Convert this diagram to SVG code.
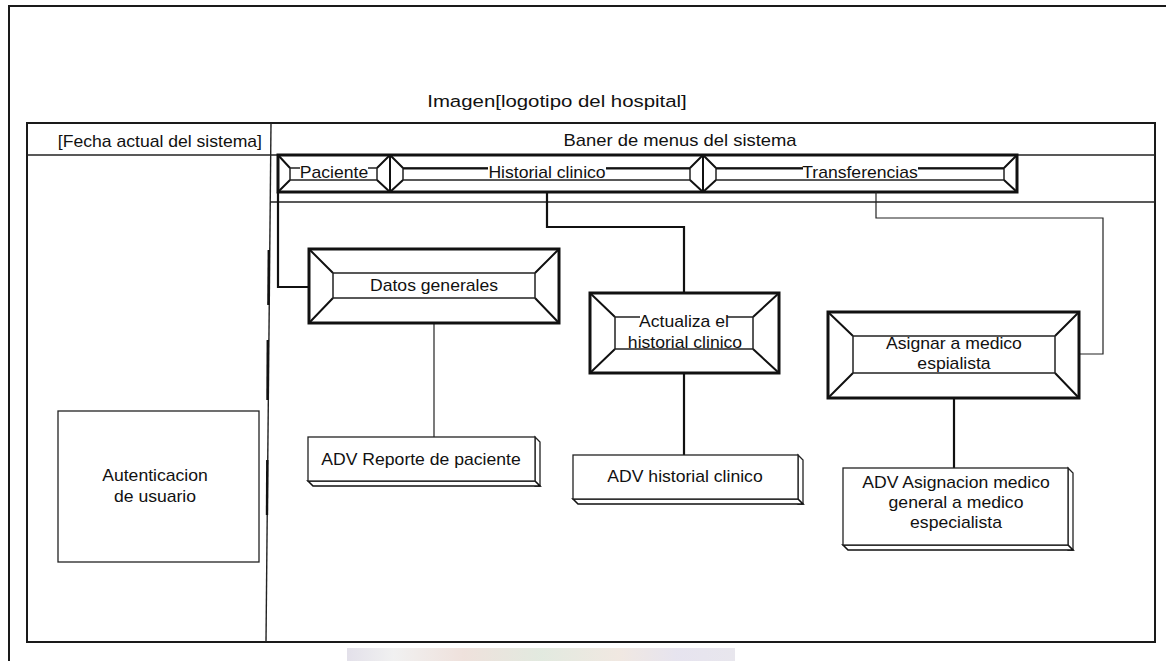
<svg xmlns="http://www.w3.org/2000/svg" width="1166" height="661" viewBox="0 0 1166 661">
  <defs>
    <style>
      .t{font-family:"Liberation Sans",Arial,Helvetica,sans-serif;font-size:16px;fill:#111;}
      .m{text-anchor:middle}
      .e{text-anchor:end}
      .frame{fill:none;stroke:#1a1a1a;stroke-width:2}
      .grid{fill:none;stroke:#222;stroke-width:1.4}
      .bev-out{fill:#fff;stroke:#111;stroke-width:3}
      .bev-in{fill:#fff;stroke:#222;stroke-width:1.5}
      .bev-d{stroke:#111;stroke-width:2;fill:none}
      .menu-line{fill:none;stroke:#222;stroke-width:1.5}
      .con{fill:none;stroke:#111;stroke-width:2.2}
      .con-thin{fill:none;stroke:#222;stroke-width:1.2}
      .face{fill:#fff;stroke:#222;stroke-width:1.3}
      .face-b{fill:#fff;stroke:#111;stroke-width:1.6}
    </style>
    <linearGradient id="wm" x1="0" y1="0" x2="1" y2="0">
      <stop offset="0" stop-color="#dedbe6"/>
      <stop offset="0.12" stop-color="#eeeeee"/>
      <stop offset="0.3" stop-color="#ecdcd6"/>
      <stop offset="0.5" stop-color="#dde6da"/>
      <stop offset="0.7" stop-color="#eee4dc"/>
      <stop offset="0.85" stop-color="#e2dfec"/>
      <stop offset="1" stop-color="#e4e2ea"/>
    </linearGradient>
  </defs>

  <rect x="0" y="0" width="1166" height="661" fill="#fff"/>

  <!-- faint band below the page frame -->
  <rect x="347" y="648" width="388" height="13" fill="url(#wm)" opacity="0.85"/>

  <!-- page frame and layout grid -->
  <g id="layout">
    <path class="frame" d="M9,661 V6 H1166"/>
    <rect class="frame" x="27" y="123" width="1128" height="519"/>
    <line class="grid" x1="27" y1="155" x2="1155" y2="155"/>
    <line class="grid" x1="271" y1="123" x2="266" y2="642"/>
    <line class="grid" x1="270" y1="202" x2="1155" y2="202"/>
    <line stroke="#111" stroke-width="2.4" x1="268.8" y1="250" x2="268.4" y2="305"/>
    <line stroke="#111" stroke-width="2.4" x1="267.8" y1="340" x2="267.5" y2="400"/>
    <line stroke="#111" stroke-width="2.4" x1="267.3" y1="460" x2="267" y2="515"/>
    <text class="t m" style="font-size:17px" transform="translate(557,107) scale(1.2,1)">Imagen[logotipo del hospital]</text>
    <text class="t e" transform="translate(262,147) scale(1.1,1)">[Fecha actual del sistema]</text>
    <text class="t m" transform="translate(680,146) scale(1.15,1)">Baner de menus del sistema</text>
  </g>

  <!-- menu bar with three bevelled items -->
  <g id="menu">
    <rect class="bev-out" x="278" y="155" width="739" height="37" stroke-width="2"/>
    <!-- item: Paciente -->
    <rect class="menu-line" x="290" y="168" width="87" height="12"/>
    <path class="bev-d" d="M278,155 L290,168 M278,192 L290,180 M390,155 L377,168 M390,192 L377,180 M390,155 V192"/>
    <!-- item: Historial clinico -->
    <rect class="menu-line" x="403" y="168" width="287" height="12"/>
    <path class="bev-d" d="M390,155 L403,168 M390,192 L403,180 M703,155 L690,168 M703,192 L690,180 M703,155 V192"/>
    <!-- item: Transferencias -->
    <rect class="menu-line" x="716" y="168" width="288" height="12"/>
    <path class="bev-d" d="M703,155 L716,168 M703,192 L716,180 M1017,155 L1004,168 M1017,192 L1004,180"/>
    <line stroke="#111" stroke-width="2" x1="403" y1="168.5" x2="690" y2="168.5"/>
    <line stroke="#111" stroke-width="2" x1="716" y1="168.5" x2="1004" y2="168.5"/>
    <rect x="300" y="164" width="68" height="14" fill="#fff"/>
    <rect x="488" y="164" width="118" height="14" fill="#fff"/>
    <rect x="803" y="164" width="115" height="14" fill="#fff"/>
    <text class="t m" transform="translate(334,178) scale(1.1,1)">Paciente</text>
    <text class="t m" transform="translate(547,178) scale(1.1,1)">Historial clinico</text>
    <text class="t m" transform="translate(860,178) scale(1.1,1)">Transferencias</text>
  </g>

  <!-- connectors -->
  <g id="connectors">
    <path class="con" d="M278,192 V287 H309"/>
    <path class="con" d="M547,192 V227 H684 V293"/>
    <path class="con-thin" d="M876,192 V218 H1103 V354 H1079"/>
    <path class="con-thin" d="M434,323 V437"/>
    <path class="con" d="M684,373 V455"/>
    <path class="con" d="M954,398 V468"/>
  </g>

  <!-- login area -->
  <g id="autenticacion">
    <rect class="face" x="58" y="411" width="201" height="151"/>
    <text class="t m" transform="translate(155,481) scale(1.1,1)">Autenticacion</text>
    <text class="t m" transform="translate(155,502) scale(1.1,1)">de usuario</text>
  </g>

  <!-- bevelled action nodes -->
  <g id="datos-generales">
    <rect class="bev-out" x="309" y="249" width="250" height="74"/>
    <path class="bev-d" d="M309,249 L333,273 M559,249 L535,273 M309,323 L333,298 M559,323 L535,298"/>
    <rect class="bev-in" x="333" y="273" width="202" height="25"/>
    <text class="t m" transform="translate(434,291) scale(1.1,1)">Datos generales</text>
  </g>

  <g id="actualiza-historial">
    <rect class="bev-out" x="590" y="293" width="189" height="80"/>
    <path class="bev-d" d="M590,293 L615,317 M779,293 L753,317 M590,373 L615,349 M779,373 L753,349"/>
    <rect class="bev-in" x="615" y="317" width="138" height="32"/>
    <rect x="640" y="314" width="87" height="13" fill="#fff"/>
    <rect x="629" y="336" width="113" height="12" fill="#fff"/>
    <text class="t m" transform="translate(684,327) scale(1.1,1)">Actualiza el</text>
    <text class="t m" transform="translate(685,348) scale(1.1,1)">historial clinico</text>
  </g>

  <g id="asignar-medico">
    <rect class="bev-out" x="828" y="312" width="251" height="86"/>
    <path class="bev-d" d="M828,312 L853,336 M1079,312 L1055,336 M828,398 L853,373 M1079,398 L1055,373"/>
    <rect class="bev-in" x="853" y="336" width="202" height="37"/>
    <text class="t m" transform="translate(954,349) scale(1.1,1)">Asignar a medico</text>
    <text class="t m" transform="translate(954,369) scale(1.1,1)">espialista</text>
  </g>

  <!-- report boxes with a raised edge -->
  <g id="adv-reporte">
    <path class="face" d="M535,437 L540,442 V486 H535 Z"/>
    <path class="face-b" d="M308,481 L313,486 H540 L535,481 Z"/>
    <rect class="face" x="308" y="437" width="227" height="44"/>
    <text class="t m" transform="translate(421,465) scale(1.1,1)">ADV Reporte de paciente</text>
  </g>

  <g id="adv-historial">
    <path class="face" d="M798,455 L803,460 V504 H798 Z"/>
    <path class="face-b" d="M573,499 L578,504 H803 L798,499 Z"/>
    <rect class="face" x="573" y="455" width="225" height="44"/>
    <text class="t m" transform="translate(685,482) scale(1.1,1)">ADV historial clinico</text>
  </g>

  <g id="adv-asignacion">
    <path class="face" d="M1068,468 L1073,473 V550 H1068 Z"/>
    <path class="face-b" d="M843,545 L848,550 H1073 L1068,545 Z"/>
    <rect class="face" x="843" y="468" width="225" height="77"/>
    <text class="t m" transform="translate(956,488) scale(1.1,1)">ADV Asignacion medico</text>
    <text class="t m" transform="translate(956,508) scale(1.1,1)">general a medico</text>
    <text class="t m" transform="translate(956,528) scale(1.1,1)">especialista</text>
  </g>
</svg>
